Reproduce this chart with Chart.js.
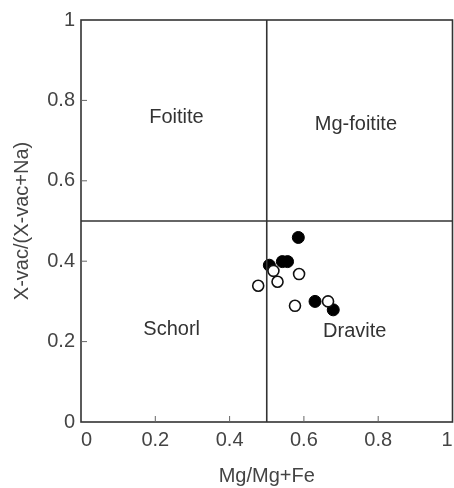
<!DOCTYPE html>
<html>
<head>
<meta charset="utf-8">
<script src="https://cdn.jsdelivr.net/npm/chart.js@4.4.0/dist/chart.umd.min.js"></script>
<style>
  html, body { margin: 0; padding: 0; background: #fff; }
  #wrap { width: 454px; height: 488px; }
</style>
</head>
<body>
<div id="wrap"><canvas id="chart" width="454" height="488"></canvas></div>
<script>
// Data
const filledX = [0.585, 0.507, 0.542, 0.556, 0.630, 0.679];
const filledY = [0.459, 0.390, 0.399, 0.399, 0.300, 0.279];
const openX = [0.518, 0.477, 0.529, 0.587, 0.576, 0.665];
const openY = [0.376, 0.339, 0.349, 0.368, 0.289, 0.300];
const tickValues = [0, 0.2, 0.4, 0.6, 0.8, 1];
const dividerX = 0.5;
const dividerY = 0.5;

// Field names and where they sit (data units)
const fieldNames = ["Foitite", "Mg-foitite", "Schorl", "Dravite"];
const fieldX = [0.257, 0.740, 0.244, 0.737];
const fieldY = [0.757, 0.741, 0.229, 0.226];

const FONT = "'Liberation Sans', Arial, sans-serif";
const INK = "#333";

function toPoints(xs, ys) {
  return xs.map((x, i) => ({ x: x, y: ys[i] }));
}

// frame, inward ticks and field labels
const framePlugin = {
  id: "frame",
  afterDatasetsDraw(chart) {
    const { ctx, chartArea: a, scales } = chart;
    ctx.save();
    ctx.strokeStyle = INK;
    ctx.lineWidth = 1.6;
    ctx.strokeRect(a.left, a.top, a.right - a.left, a.bottom - a.top);

    ctx.lineWidth = 1;
    ctx.strokeStyle = "#666";
    tickValues.slice(1, -1).forEach(v => {
      const px = scales.x.getPixelForValue(v);
      ctx.beginPath();
      ctx.moveTo(px, a.bottom);
      ctx.lineTo(px, a.bottom - 6);
      ctx.stroke();
      const py = scales.y.getPixelForValue(v);
      ctx.beginPath();
      ctx.moveTo(a.left, py);
      ctx.lineTo(a.left + 6, py);
      ctx.stroke();
    });

    ctx.fillStyle = INK;
    ctx.font = "20px " + FONT;
    ctx.textAlign = "center";
    ctx.textBaseline = "middle";
    fieldNames.forEach((name, i) => {
      ctx.fillText(name, scales.x.getPixelForValue(fieldX[i]), scales.y.getPixelForValue(fieldY[i]));
    });
    ctx.restore();
  }
};

new Chart(document.getElementById("chart"), {
  type: "scatter",
  data: {
    datasets: [
      {
        data: [{ x: dividerX, y: 0 }, { x: dividerX, y: 1 }],
        showLine: true, borderColor: INK, borderWidth: 1.6, pointRadius: 0
      },
      {
        data: [{ x: 0, y: dividerY }, { x: 1, y: dividerY }],
        showLine: true, borderColor: INK, borderWidth: 1.6, pointRadius: 0
      },
      {
        data: toPoints(openX, openY),
        pointRadius: 5.5, pointBackgroundColor: "#fff",
        pointBorderColor: "#111", pointBorderWidth: 1.6
      },
      {
        data: toPoints(filledX, filledY),
        pointRadius: 6, pointBackgroundColor: "#000",
        pointBorderColor: "#000", pointBorderWidth: 1
      }
    ]
  },
  options: {
    responsive: false,
    animation: false,
    layout: { autoPadding: false, padding: { top: 20, right: 1.5 } },
    plugins: { legend: { display: false }, tooltip: { enabled: false } },
    scales: {
      x: {
        type: "linear", min: 0, max: 1,
        afterFit(scale) { scale.height = 66; },
        afterBuildTicks(scale) { scale.ticks = tickValues.map(v => ({ value: v })); },
        grid: { display: false, drawTicks: false },
        border: { display: false },
        ticks: {
          padding: 0, color: "#444", font: { family: FONT, size: 20, lineHeight: 1.8 },
          maxRotation: 0, autoSkip: false, align: "inner",
          callback: v => String(v)
        },
        title: {
          display: true, text: "Mg/Mg+Fe", color: "#444",
          font: { family: FONT, size: 20 }, padding: { top: 0, bottom: 0 }
        }
      },
      y: {
        type: "linear", min: 0, max: 1,
        afterFit(scale) { scale.width = 81; },
        afterBuildTicks(scale) { scale.ticks = tickValues.map(v => ({ value: v })); },
        grid: { display: false, drawTicks: false },
        border: { display: false },
        ticks: {
          padding: 6, color: "#444", font: { family: FONT, size: 20 },
          autoSkip: false,
          callback: v => String(v)
        },
        title: {
          display: true, text: "X-vac/(X-vac+Na)", color: "#444",
          font: { family: FONT, size: 20 }, padding: { top: 10, bottom: 0 }
        }
      }
    }
  },
  plugins: [framePlugin]
});
</script>
</body>
</html>
